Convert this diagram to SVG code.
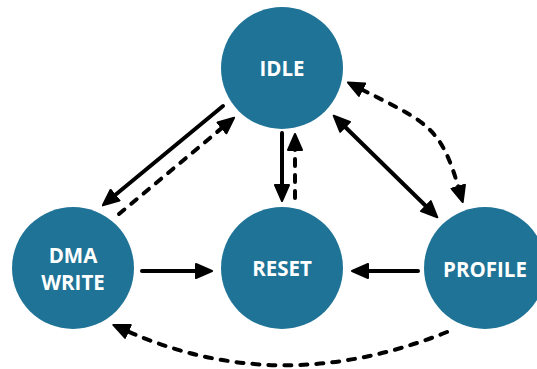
<svg xmlns="http://www.w3.org/2000/svg" width="537" height="369" viewBox="0 0 537 369">
  <style>
    .node circle { fill: #1f7396; }
    .node text { fill: #ffffff; font-family: "Open Sans", "Liberation Sans", sans-serif; font-weight: bold; font-size: 20.5px; text-anchor: middle; }
    .edge { fill: none; stroke: #000000; stroke-width: 4; stroke-linecap: round; }
    .dashed { stroke-dasharray: 7 9; }
  </style>
  <defs>
    <marker id="arrow" viewBox="0 0 18 16" refX="2" refY="8" markerWidth="18" markerHeight="16" markerUnits="userSpaceOnUse" orient="auto-start-reverse">
      <path d="M1,1 L17,8 L1,15 Z" fill="#000000" stroke="#000000" stroke-width="2" stroke-linejoin="round"/>
    </marker>
  </defs>

  <g id="connectors">
    <!-- IDLE -> DMA WRITE -->
    <path class="edge" d="M223,106 L114.3,195.8" marker-end="url(#arrow)"/>
    <!-- DMA WRITE -> IDLE -->
    <path class="edge dashed" d="M119,214 L222.7,127.3" marker-end="url(#arrow)"/>
    <!-- IDLE -> RESET -->
    <path class="edge" d="M282,133 L282,186" marker-end="url(#arrow)"/>
    <!-- RESET -> IDLE -->
    <path class="edge dashed" d="M295,198 L295,149" marker-end="url(#arrow)"/>
    <!-- IDLE <-> PROFILE -->
    <path class="edge" d="M344.4,126.2 L426.6,206.8" marker-start="url(#arrow)" marker-end="url(#arrow)"/>
    <!-- IDLE <-> PROFILE, curved -->
    <path class="edge dashed" d="M361.2,89.2 C427,122.5 440.6,126.2 458.5,187.6" marker-start="url(#arrow)" marker-end="url(#arrow)"/>
    <!-- DMA WRITE -> RESET -->
    <path class="edge" d="M142,271 L197,271" marker-end="url(#arrow)"/>
    <!-- PROFILE -> RESET -->
    <path class="edge" d="M418,271 L367,271" marker-end="url(#arrow)"/>
    <!-- PROFILE -> DMA WRITE, curved -->
    <path class="edge dashed" d="M447,332 Q280,399 127,331" marker-end="url(#arrow)"/>
  </g>

  <g id="idle" class="node">
    <circle cx="282" cy="68" r="61"/>
    <text x="282" y="76">IDLE</text>
  </g>
  <g id="dma-write" class="node">
    <circle cx="73" cy="268" r="61"/>
    <text x="73" y="263">DMA</text>
    <text x="73" y="290">WRITE</text>
  </g>
  <g id="reset" class="node">
    <circle cx="282" cy="268" r="61"/>
    <text x="282" y="276">RESET</text>
  </g>
  <g id="profile" class="node">
    <circle cx="485" cy="268" r="61"/>
    <text x="485" y="277">PROFILE</text>
  </g>
</svg>
